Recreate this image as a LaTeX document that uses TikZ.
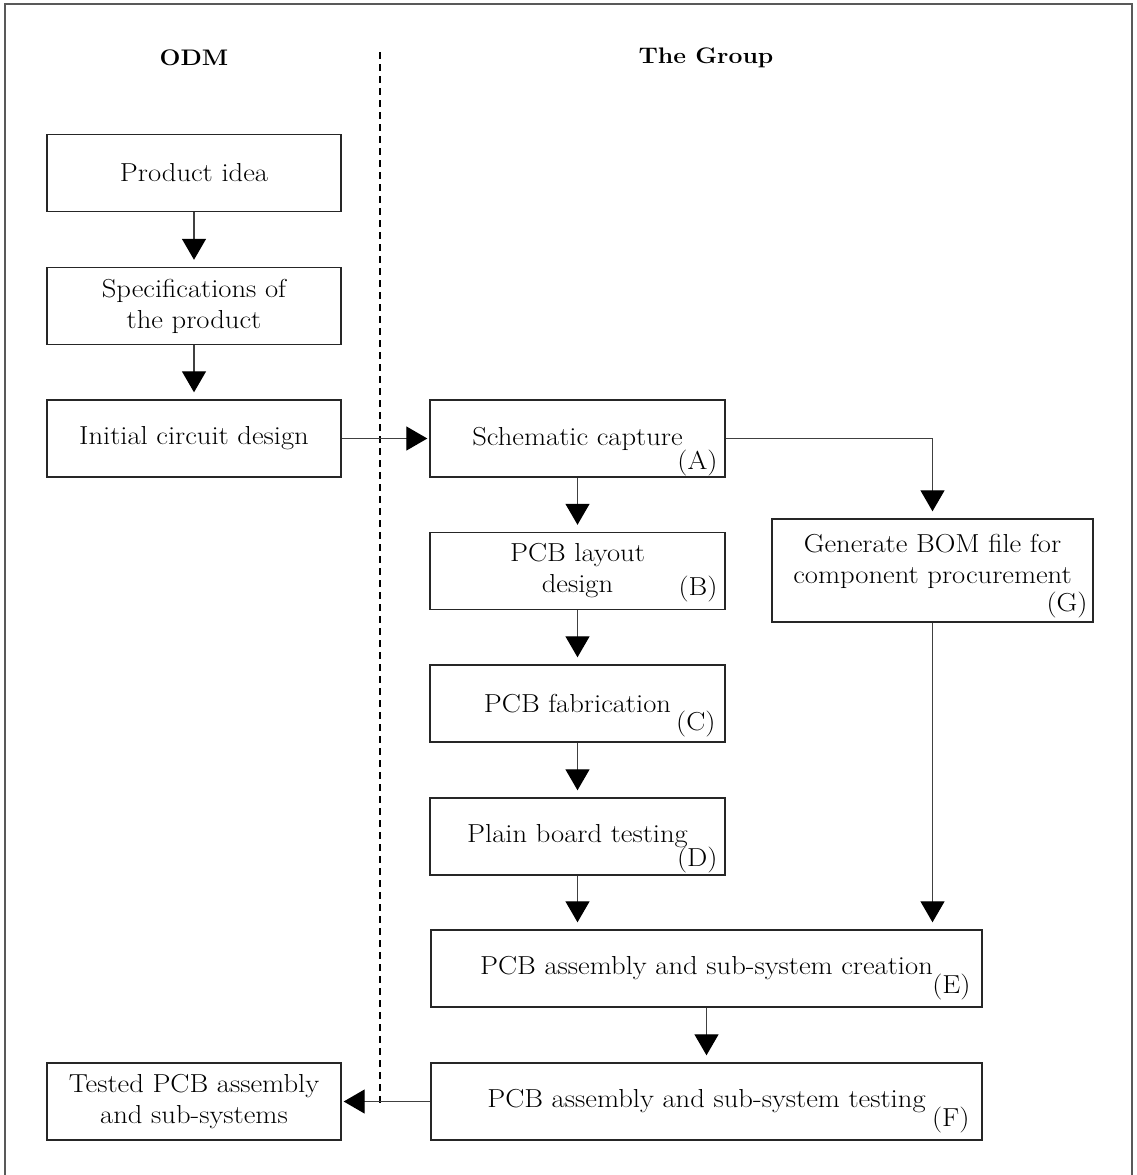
\documentclass[tikz,border=0pt]{standalone}
\usepackage{fontspec}
\setmainfont{Latin Modern Roman}[FakeStretch=1.1]
\usetikzlibrary{arrows.meta}
\begin{document}
\begin{tikzpicture}[x=1pt,y=-1pt,
  every node/.style={font=\fontsize{26}{31}\selectfont},
  box/.style={draw=black!85, line width=1.4pt, fill=white, inner sep=0pt, align=center},
  lbox/.style={box, minimum width=294pt, minimum height=77pt},
  rbox/.style={box, minimum width=295pt, minimum height=77pt},
  wbox/.style={box, minimum width=551pt, minimum height=77pt},
  lbl/.style={inner sep=0pt, anchor=south east},
  hdr/.style={font=\fontsize{22.5}{27}\selectfont\bfseries},
  conn/.style={draw=black!75, line width=1.3pt, -{Triangle[width=24pt,length=21pt,black]}},
  divider/.style={draw=black, line width=2.2pt, dash pattern=on 7pt off 5pt},
  frame/.style={draw=black!65, line width=1.5pt}
]
\useasboundingbox (0,0) rectangle (1137,1175);
\draw[frame] (5,1176) -- (5,4) -- (1132,4) -- (1132,1176);

% headers
\node[hdr] (odm) at (194,58) {ODM};
\node[hdr] (grp) at (706,58) {The Group};

% divider
\coordinate (dtop) at (380,52);
\coordinate (dbot) at (380,1103);
\draw[divider] (dtop) -- (dbot);

% left column
\node[lbox] (prod) at (194,173) {Product idea};
\node[lbox] (spec) at (194,306) {Specifications of\\the product};
\node[lbox] (init) at (194,438.5) {Initial circuit design};
\node[lbox] (tested) at (194,1101.5) {Tested PCB assembly\\and sub-systems};

% right column
\node[rbox] (A) at (577.5,438.5) {Schematic capture};
\node[rbox] (B) at (577.5,571) {PCB layout\\design};
\node[rbox] (C) at (577.5,703.5) {PCB fabrication};
\node[rbox] (D) at (577.5,836.5) {Plain board testing};
\node[wbox] (E) at (706.5,968.5) {PCB assembly and sub-system creation};
\node[wbox] (F) at (706.5,1101.5) {PCB assembly and sub-system testing};
\node[box, minimum width=321pt, minimum height=103pt] (G) at (932.5,570.5) {};
\node[align=center, inner sep=0pt] (Gt) at (932.5,561) {Generate BOM file for\\component procurement};

% letter labels
\node[lbl] (Al) at ([xshift=-8pt,yshift=2pt]A.south east) {(A)};
\node[lbl] (Bl) at ([xshift=-8pt,yshift=8pt]B.south east) {(B)};
\node[lbl] (Cl) at ([xshift=-10pt,yshift=6pt]C.south east) {(C)};
\node[lbl] (Dl) at ([xshift=-8pt,yshift=3pt]D.south east) {(D)};
\node[lbl] (El) at ([xshift=-12pt,yshift=8pt]E.south east) {(E)};
\node[lbl] (Fl) at ([xshift=-13pt,yshift=8pt]F.south east) {(F)};
\node[lbl] (Gl) at ([xshift=-6pt,yshift=5pt]G.south east) {(G)};

% connectors
\draw[conn, shorten >=7pt] (prod.south) -- (spec.north);
\draw[conn, shorten >=7pt] (spec.south) -- (init.north);
\draw[conn, shorten >=2pt] (init.east) -- (A.west);
\draw[conn, shorten >=7pt] (A.south) -- (B.north);
\draw[conn, shorten >=7pt] (B.south) -- (C.north);
\draw[conn, shorten >=7pt] (C.south) -- (D.north);
\draw[conn, shorten >=7pt] (D.south) -- (D.south |- E.north);
\draw[conn, shorten >=7pt] (A.east) -| (G.north);
\draw[conn, shorten >=7pt] (G.south) -- (G.south |- E.north);
\draw[conn, shorten >=7pt] (E.south) -- (F.north);
\draw[conn, shorten >=2pt] (F.west) -- (tested.east);
\end{tikzpicture}
\end{document}
